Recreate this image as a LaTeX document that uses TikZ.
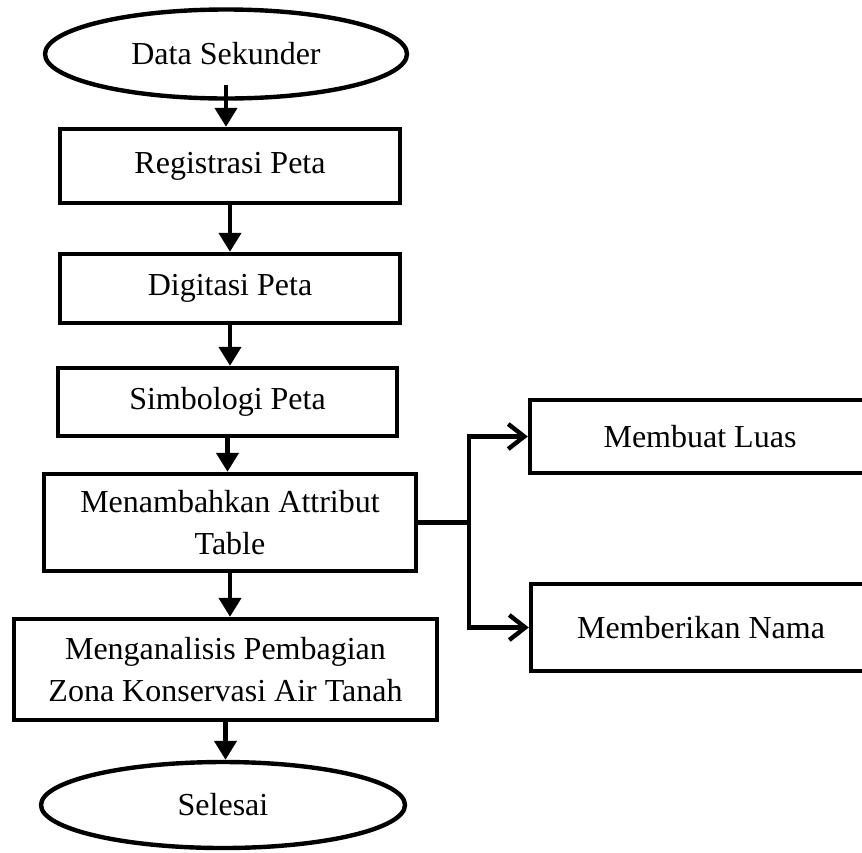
\documentclass[tikz,border=0pt]{standalone}
\usepackage{fontspec}
\setmainfont{Liberation Serif}
\usetikzlibrary{arrows.meta,shapes.geometric}

\begin{document}
\begin{tikzpicture}[
x=0.5pt, y=-0.5pt,
 line width=2.2pt,
 font=\fontsize{16}{21}\selectfont,
    T/.style = {ellipse, draw, inner sep=0pt,% start and end of the flow
                minimum width=181pt, minimum height=#1},
    P/.style = {rectangle, draw, align=center,% process boxes
                minimum width=170pt, minimum height=#1},
    F/.style = {-{Triangle[length=9.5pt,width=11pt]}},% main flow
    B/.style = {-{Straight Barb[length=8pt,width=12.5pt]}},% branches
                        ]
\useasboundingbox (0,0) rectangle (862,852);
\clip (0,0) rectangle (862,852);
% main column
\node[T=44.5pt] (ds) at (226,54) {Data Sekunder};
\node[P=37pt] (rp) at (230,166) {Registrasi Peta};
\node[P=34.5pt] (dp) at (230,288.5) {Digitasi Peta};
\node[P=34pt, minimum width=169.5pt] (sp) at (227.5,402) {Simbologi Peta};
\node[P=48.5pt, minimum width=186pt] (ma) at (230,522.5) {Menambahkan Attribut\\ Table};
\node[P=50.5pt, minimum width=211.5pt] (mz) at (225.5,669.5) {Menganalisis Pembagian\\ Zona Konservasi Air Tanah};
\node[T=43pt, minimum width=182pt] (sl) at (223,805) {Selesai};
% right branch
\node[P=36.5pt] (ml) at (700,436.5) {Membuat Luas};
\node[P=43.5pt] (mn) at (701,627.5) {Memberikan Nama};

\draw[F] ([yshift=8pt]ds.south) -- (ds.south |- rp.north);
\foreach \a/\b in {rp/dp,dp/sp,sp/ma,ma/mz,mz/sl}
    \draw[F] (\a.south) -- (\a.south |- \b.north);
\draw (ma.east) -- ++(51,0) coordinate (fork);
\draw[B] (fork) |- (ml.west);
\draw[B] (fork) |- (mn.west);
\end{tikzpicture}
\end{document}
